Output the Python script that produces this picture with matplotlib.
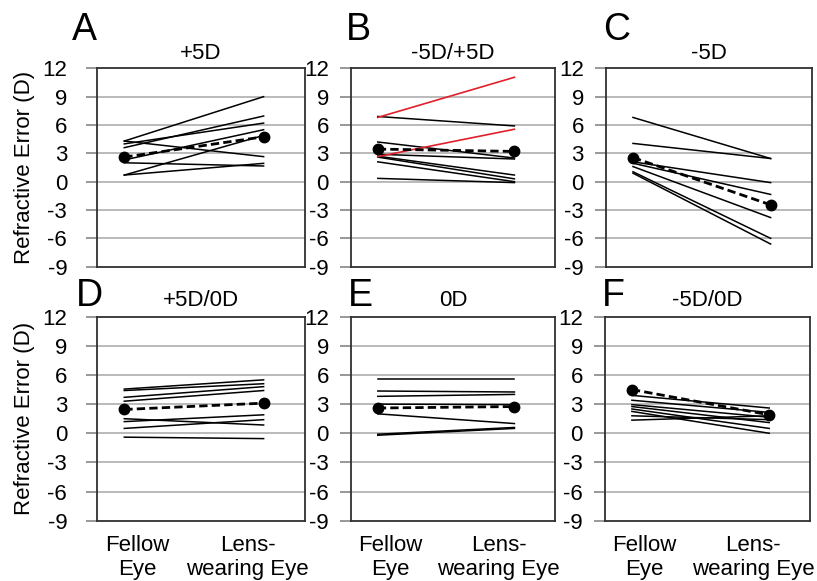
import numpy as np
import matplotlib
matplotlib.use('Agg')
import matplotlib.pyplot as plt

plt.rcParams['font.family'] = ['Liberation Sans', 'DejaVu Sans']

# refractive error (D): fellow eye, lens-wearing eye, one pair per animal
A_fellow = [4.3, 4.3, 3.6, 4.0, 2.3, 2.0, 0.7, 0.7]
A_lens = [9.0, 2.65, 6.95, 6.2, 5.5, 1.66, 1.94, 4.9]
A_mean = [2.6, 4.75]

B_fellow = [6.9, 4.2, 2.9, 2.7, 2.6, 2.1, 0.35]
B_lens = [5.9, 2.5, 2.4, 0.7, 0.3, 0.0, -0.1]
B_red_fellow = [6.8, 2.65]
B_red_lens = [11.05, 5.55]
B_mean = [3.45, 3.2]

C_fellow = [6.8, 4.05, 2.1, 1.95, 1.6, 1.05, 0.9]
C_lens = [2.45, 2.45, -0.1, -1.35, -3.8, -6.0, -6.6]
C_mean = [2.55, -2.45]

D_fellow = [4.55, 4.4, 3.7, 3.3, 1.5, 1.2, 0.5, -0.4]
D_lens = [5.5, 5.1, 4.8, 4.4, 0.85, 1.9, 1.4, -0.55]
D_mean = [2.45, 3.1]

E_fellow = [5.55, 4.35, 3.8, 3.0, 2.0, -0.1, -0.2]
E_lens = [5.55, 4.25, 4.0, 2.95, 1.0, 0.6, 0.5]
E_mean = [2.6, 2.75]

F_fellow = [3.9, 3.4, 2.95, 2.75, 2.5, 2.25, 1.8, 1.35]
F_lens = [2.6, 2.15, 1.65, 1.1, 0.5, 0.0, 1.4, 1.8]
F_mean = [4.5, 1.9]

titles = ['+5D', '-5D/+5D', '-5D', '+5D/0D', '0D', '-5D/0D']
letters = ['A', 'B', 'C', 'D', 'E', 'F']
yticks = [12, 9, 6, 3, 0, -3, -6, -9]
xlabels = ['Fellow\nEye', 'Lens-\nwearing Eye']

W, H = 817, 581
fig = plt.figure(figsize=(W/100, H/100), dpi=100)
FS = 16

def px_rect(x0, y0, x1, y1):
    # pixel box (top-left origin) -> figure fraction
    return [x0/W, 1-y1/H, (x1-x0)/W, (y1-y0)/H]

boxes = [(97, 68.3, 305, 266.7), (351, 68.3, 555, 266.7), (606, 68.3, 811.5, 266.7),
         (97, 316.7, 305, 520.7), (351, 316.7, 555, 520.7), (605, 316.7, 810, 520.7)]
tickpads = [13.5, 8, 8, 13.5, 8, 8]
titlepads = [6.5, 6.5, 6.5, 8, 8, 8]
letter_pos = [(72, 40), (346, 40), (603, 40), (76, 306), (348, 306), (602, 306)]
data = [(A_fellow, A_lens, A_mean), (B_fellow, B_lens, B_mean), (C_fellow, C_lens, C_mean),
        (D_fellow, D_lens, D_mean), (E_fellow, E_lens, E_mean), (F_fellow, F_lens, F_mean)]

for i in range(6):
    ax = fig.add_axes(px_rect(*boxes[i]))
    fel, lens, mean = data[i]
    for a, b in zip(fel, lens):
        ax.plot([0, 1], [a, b], color='black', lw=1.1)
    if i == 1:
        for a, b in zip(B_red_fellow, B_red_lens):
            ax.plot([0, 1], [a, b], color='#e0202a', lw=1.2)
    ax.plot([0, 1], mean, color='black', lw=2.0, ls=(0, (3, 1.5)),
            marker='o', ms=7.5, zorder=5)
    ax.set_xlim(-0.196, 1.297)
    ax.set_ylim(-9, 12)
    ax.set_yticks(yticks)
    ax.set_yticklabels([str(t) for t in yticks])
    for t in [9, 6, 3, 0, -3, -6]:
        ax.axhline(t, color='#b4b4b4', lw=1.3, zorder=0)
    for s in ax.spines.values():
        s.set_color('#303030')
        s.set_linewidth(1.3)
    ax.tick_params(axis='y', length=8, width=1.3, color='#909090',
                   labelsize=FS, pad=tickpads[i])
    if i >= 3:
        ax.set_xticks([0.09, 0.885])
        ax.set_xticklabels(xlabels, fontsize=FS, linespacing=1.2)
        ax.tick_params(axis='x', length=0, pad=10)
    else:
        ax.set_xticks([])
    ax.set_title(titles[i], fontsize=FS, pad=titlepads[i])
    lx, ly = letter_pos[i]
    fig.text(lx/W, 1-ly/H, letters[i], fontsize=27, ha='left', va='baseline')

fig.text(25/W, 1-167.5/H, 'Refractive Error (D)', rotation=90, fontsize=FS,
         ha='center', va='center')
fig.text(25/W, 1-418.7/H, 'Refractive Error (D)', rotation=90, fontsize=FS,
         ha='center', va='center')

plt.savefig('out.png', dpi=100)
